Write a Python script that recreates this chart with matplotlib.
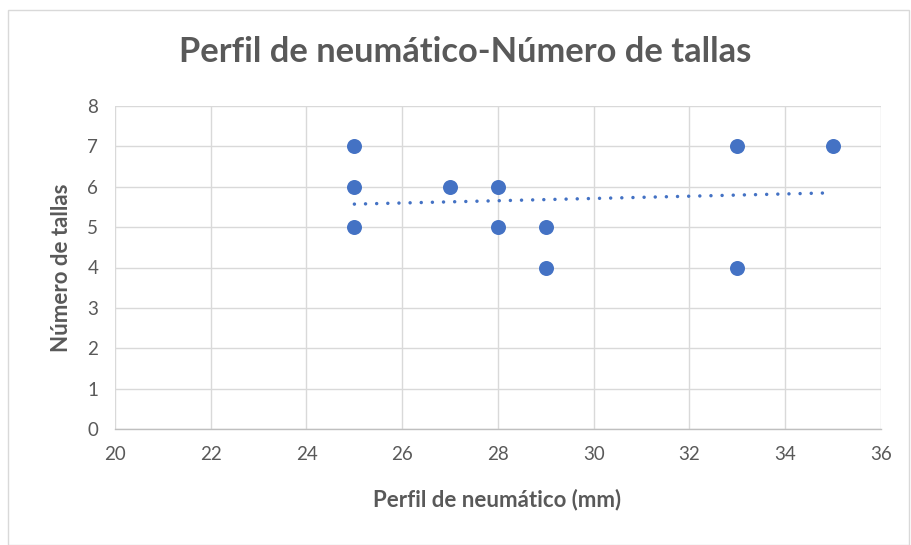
import matplotlib
matplotlib.use("Agg")
import matplotlib.pyplot as plt
from matplotlib.patches import Rectangle

# Data
perfil_mm = [25, 25, 25, 27, 28, 28, 29, 29, 33, 33, 35]
num_tallas = [7, 6, 5, 6, 6, 5, 5, 4, 7, 4, 7]
trend_x = [25, 35]
trend_y = [5.57, 5.85]
x_ticks = [20, 22, 24, 26, 28, 30, 32, 34, 36]
y_ticks = [0, 1, 2, 3, 4, 5, 6, 7, 8]

title = "Perfil de neumático-Número de tallas"
xlabel = "Perfil de neumático (mm)"
ylabel = "Número de tallas"

plt.rcParams['font.family'] = ['Lato', 'DejaVu Sans']
text_color = "#595959"
grid_color = "#D9D9D9"
blue = "#4472C4"

fig = plt.figure(figsize=(9.12, 5.45), dpi=100)
fig.patches.append(Rectangle((8/912, 0), 901/912, 1 - 10/545, transform=fig.transFigure,
                             fill=False, edgecolor="#D9D9D9", linewidth=1.0))
ax = fig.add_axes([115/912, 1 - 429/545, (881 - 115)/912, (429 - 106)/545])

ax.set_xlim(20, 36)
ax.set_ylim(0, 8)
ax.set_xticks(x_ticks)
ax.set_yticks(y_ticks)
ax.grid(True, color=grid_color, linewidth=1.0)
ax.set_axisbelow(True)
for s in ["top", "right", "left"]:
    ax.spines[s].set_visible(False)
ax.spines["bottom"].set_color("#BFBFBF")
ax.spines["bottom"].set_linewidth(1.0)
ax.tick_params(length=0, labelsize=13.5, colors=text_color, pad=12)

ax.plot(trend_x, trend_y, color=blue, linewidth=2.5, linestyle=(0, (0.01, 3.2)),
        dash_capstyle="round", zorder=2)
ax.plot(perfil_mm, num_tallas, linestyle="none", marker="o", markersize=10.8,
        color=blue, markeredgewidth=0, zorder=3)

fig.text(465/912, 1 - 52/545, title, ha="center", va="center", fontsize=24.8,
         fontweight="bold", color=text_color)
fig.text(497/912, 1 - 500/545, xlabel, ha="center", va="center", fontsize=16,
         fontweight="bold", color=text_color)
fig.text(62/912, 1 - 268/545, ylabel, ha="center", va="center", fontsize=16,
         fontweight="bold", color=text_color, rotation=90)

fig.savefig("out.png", dpi=100)
